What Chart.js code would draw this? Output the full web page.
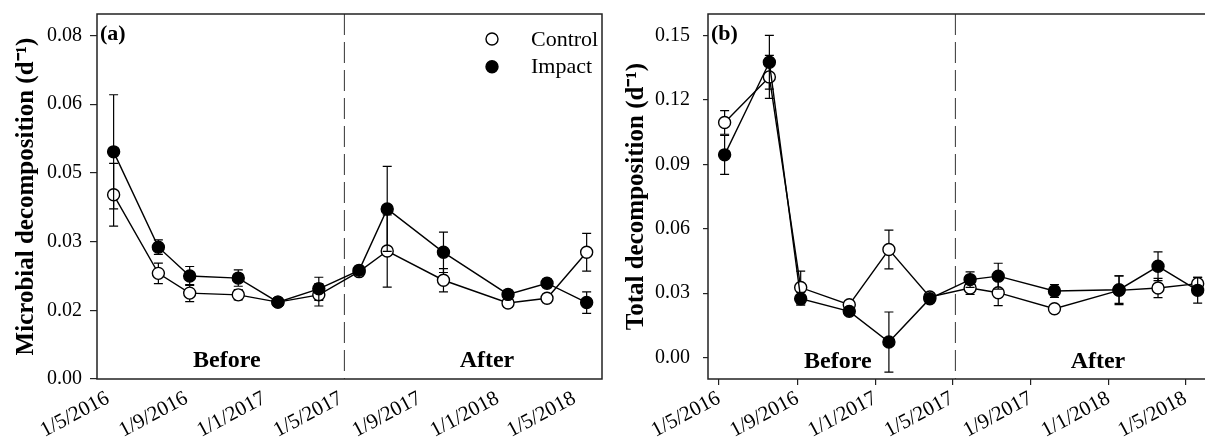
<!DOCTYPE html>
<html>
<head>
<meta charset="utf-8">
<script src="https://cdn.jsdelivr.net/npm/chart.js@4.4.1/dist/chart.umd.min.js"></script>
<style>
  html, body { margin: 0; padding: 0; background: #fff; overflow: hidden; width: 1205px; height: 444px; }
  .panel { position: absolute; top: 0; height: 444px; }
  #wrapA { left: 0; width: 610px; }
  #wrapB { left: 606px; width: 620px; }
</style>
</head>
<body>
<div id="wrapA" class="panel"><canvas id="chartA"></canvas></div>
<div id="wrapB" class="panel"><canvas id="chartB"></canvas></div>
<script>
// sampling dates (same for both panels)
const sampleDates = ["2016-05-10", "2016-07-19", "2016-09-06", "2016-11-21", "2017-01-22", "2017-03-27",
                     "2017-05-29", "2017-07-12", "2017-10-08", "2018-01-17", "2018-03-19", "2018-05-20"];
const tickDates = ["2016-05-01", "2016-09-01", "2017-01-01", "2017-05-01", "2017-09-01", "2018-01-01", "2018-05-01"];
const tickLabels = ["1/5/2016", "1/9/2016", "1/1/2017", "1/5/2017", "1/9/2017", "1/1/2018", "1/5/2018"];
const axisStart = "2016-04-14";
const axisEnd = "2018-06-13";
const treatmentDate = "2017-05-06";
const periodLabels = ["Before", "After"];
const periodLabelDates = ["2016-11-03", "2017-12-15"];

// (a) microbial decomposition
const microbialControl   = [0.0429, 0.0246, 0.0200, 0.0196, 0.0179, 0.0196, 0.0250, 0.0298, 0.0230, 0.0177, 0.0188, 0.0295];
const microbialControlSe = [0.0073, 0.0024, 0.0020, 0.0012, 0.0008, 0.0026, 0.0008, 0.0084, 0.0027, 0.0010, 0.0010, 0.0044];
const microbialImpact    = [0.0529, 0.0307, 0.0240, 0.0235, 0.0179, 0.0210, 0.0253, 0.0396, 0.0295, 0.0197, 0.0223, 0.0178];
const microbialImpactSe  = [0.0133, 0.0017, 0.0022, 0.0019, 0.0008, 0.0027, 0.0008, 0.0099, 0.0047, 0.0010, 0.0010, 0.0025];
const microbialTicks = [0, 0.016, 0.032, 0.048, 0.064, 0.08];
const microbialTickLabels = ["0.00", "0.02", "0.03", "0.05", "0.06", "0.08"];

// (b) total decomposition
const totalControl   = [0.1095, 0.1307, 0.0326, 0.0246, 0.0503, 0.0282, 0.0324, 0.0302, 0.0227, 0.0313, 0.0324, 0.0344];
const totalControlSe = [0.0055, 0.0100, 0.0076, 0.0015, 0.0090, 0.0015, 0.0030, 0.0060, 0.0015, 0.0067, 0.0045, 0.0030];
const totalImpact    = [0.0944, 0.1375, 0.0274, 0.0215, 0.0072, 0.0274, 0.0363, 0.0379, 0.0310, 0.0316, 0.0425, 0.0313];
const totalImpactSe  = [0.0091, 0.0125, 0.0030, 0.0015, 0.0140, 0.0015, 0.0036, 0.0060, 0.0030, 0.0064, 0.0067, 0.0060];
const totalTicks = [0, 0.03, 0.06, 0.09, 0.12, 0.15];
const totalTickLabels = ["0.00", "0.03", "0.06", "0.09", "0.12", "0.15"];

const SERIF = "'Liberation Serif', 'Times New Roman', serif";
Chart.defaults.font.family = SERIF;
Chart.defaults.color = "#000";

function toDay(s) {
  return Date.UTC(+s.slice(0, 4), +s.slice(5, 7) - 1, +s.slice(8, 10)) / 86400000;
}

function pairs(values) {
  return values.map((v, i) => ({ x: toDay(sampleDates[i]), y: v }));
}

// error bars, dashed treatment line, frame, labels and legend
const decorPlugin = {
  id: "decor",
  beforeDatasetsDraw(chart) {
    const { ctx, chartArea: a, scales: { x } } = chart;
    const px = x.getPixelForValue(toDay(treatmentDate));
    ctx.save();
    ctx.strokeStyle = "#333";
    ctx.lineWidth = 1;
    ctx.setLineDash([21, 7]);
    ctx.beginPath();
    ctx.moveTo(px, a.top);
    ctx.lineTo(px, a.bottom);
    ctx.stroke();
    ctx.restore();
  },
  beforeDatasetDraw(chart, args) {
    const ds = chart.data.datasets[args.index];
    if (!ds.errors) return;
    const ctx = chart.ctx;
    const y = chart.scales.y;
    ctx.save();
    ctx.strokeStyle = "#000";
    ctx.lineWidth = 1.2;
    args.meta.data.forEach((pt, i) => {
      const v = ds.data[i].y;
      const e = ds.errors[i];
      const top = y.getPixelForValue(v + e);
      const bot = y.getPixelForValue(v - e);
      ctx.beginPath();
      ctx.moveTo(pt.x, top); ctx.lineTo(pt.x, bot);
      ctx.moveTo(pt.x - 4.5, top); ctx.lineTo(pt.x + 4.5, top);
      ctx.moveTo(pt.x - 4.5, bot); ctx.lineTo(pt.x + 4.5, bot);
      ctx.stroke();
    });
    ctx.restore();
  },
  afterDraw(chart, args, o) {
    const { ctx, chartArea: a, scales: { x, y } } = chart;
    ctx.save();
    ctx.strokeStyle = "#222";
    ctx.lineWidth = 1.5;
    ctx.strokeRect(a.left, a.top, a.right - a.left, a.bottom - a.top);

    ctx.fillStyle = "#000";
    ctx.textAlign = "left";
    ctx.textBaseline = "alphabetic";
    ctx.font = "bold 22px " + SERIF;
    ctx.fillText(o.letter, a.left + 3, a.top + 26);

    ctx.font = "bold 24px " + SERIF;
    ctx.textAlign = "center";
    ctx.textBaseline = "middle";
    periodLabels.forEach((t, i) => {
      ctx.fillText(t, x.getPixelForValue(toDay(periodLabelDates[i])), y.getPixelForValue(o.periodY));
    });

    if (o.legend) {
      ctx.font = "22px " + SERIF;
      ctx.textAlign = "left";
      chart.data.datasets.forEach((ds, i) => {
        const cy = a.top + 25 + i * 27.7;
        ctx.beginPath();
        ctx.arc(a.right - 110, cy, 6, 0, Math.PI * 2);
        ctx.fillStyle = ds.pointBackgroundColor;
        ctx.fill();
        ctx.lineWidth = 1.4;
        ctx.strokeStyle = "#000";
        ctx.stroke();
        ctx.fillStyle = "#000";
        ctx.fillText(ds.label, a.right - 71, cy + 1);
      });
    }
    ctx.restore();
  }
};

function series(label, values, errors, fill, order) {
  return {
    label: label,
    data: pairs(values),
    errors: errors,
    order: order,
    borderColor: "#000",
    borderWidth: 1.4,
    tension: 0,
    pointRadius: 6,
    pointHoverRadius: 6,
    pointBackgroundColor: fill,
    pointBorderColor: "#000",
    pointBorderWidth: 1.4
  };
}

function makeChart(id, p) {
  return new Chart(document.getElementById(id), {
    type: "line",
    data: {
      datasets: [
        series("Control", p.control, p.controlSe, "#fff", 1),
        series("Impact", p.impact, p.impactSe, "#000", 0)
      ]
    },
    options: {
      responsive: true,
      maintainAspectRatio: false,
      animation: false,
      layout: { padding: { left: 0, right: p.padRight, top: 14, bottom: 0 } },
      plugins: {
        legend: { display: false },
        tooltip: { enabled: false },
        decor: { letter: p.letter, legend: p.legend, periodY: p.periodY }
      },
      scales: {
        x: {
          type: "linear",
          min: toDay(axisStart),
          max: toDay(axisEnd),
          afterBuildTicks: (s) => { s.ticks = tickDates.map((d) => ({ value: toDay(d) })); },
          afterFit: (s) => { s.height = 65; s.paddingLeft = 0; s.paddingRight = 0; },
          grid: { display: p.xTickMarks, drawOnChartArea: false, tickLength: 6, color: "#222", lineWidth: 1.2 },
          border: { display: false },
          ticks: {
            autoSkip: false,
            minRotation: 28,
            maxRotation: 28,
            padding: p.xTickPad,
            font: { size: 21 },
            callback: (v, i) => tickLabels[i]
          }
        },
        y: {
          min: p.yMin,
          max: p.yMax,
          afterBuildTicks: (s) => { s.ticks = p.yTicks.map((v) => ({ value: v })); },
          afterFit: (s) => { s.width = p.yWidth; s.paddingTop = 0; s.paddingBottom = 0; },
          grid: { drawOnChartArea: false, tickLength: p.yTickLen, color: "#222", lineWidth: 1.2 },
          border: { display: false },
          ticks: {
            padding: p.yTickPad,
            font: { size: 20 },
            callback: (v, i) => p.yTickLabels[i]
          },
          title: {
            display: true,
            text: p.title,
            font: { size: 25, weight: "bold" },
            padding: { top: p.titlePad, bottom: 0 }
          }
        }
      }
    },
    plugins: [decorPlugin]
  });
}

makeChart("chartA", {
  control: microbialControl, controlSe: microbialControlSe,
  impact: microbialImpact, impactSe: microbialImpactSe,
  yMin: 0, yMax: 0.085, yTicks: microbialTicks, yTickLabels: microbialTickLabels,
  title: "Microbial decomposition (d\u207B\u00B9)",
  letter: "(a)", legend: true, periodY: 0.0042,
  padRight: 8, yWidth: 97, yTickLen: 7, yTickPad: 8, titlePad: 12,
  xTickMarks: false, xTickPad: 1
});

makeChart("chartB", {
  control: totalControl, controlSe: totalControlSe,
  impact: totalImpact, impactSe: totalImpactSe,
  yMin: -0.01, yMax: 0.16, yTicks: totalTicks, yTickLabels: totalTickLabels,
  title: "Total decomposition (d\u207B\u00B9)",
  letter: "(b)", legend: false, periodY: -0.0019,
  padRight: 13, yWidth: 102, yTickLen: 5, yTickPad: 13, titlePad: 16,
  xTickMarks: true, xTickPad: 1
});
</script>
</body>
</html>
